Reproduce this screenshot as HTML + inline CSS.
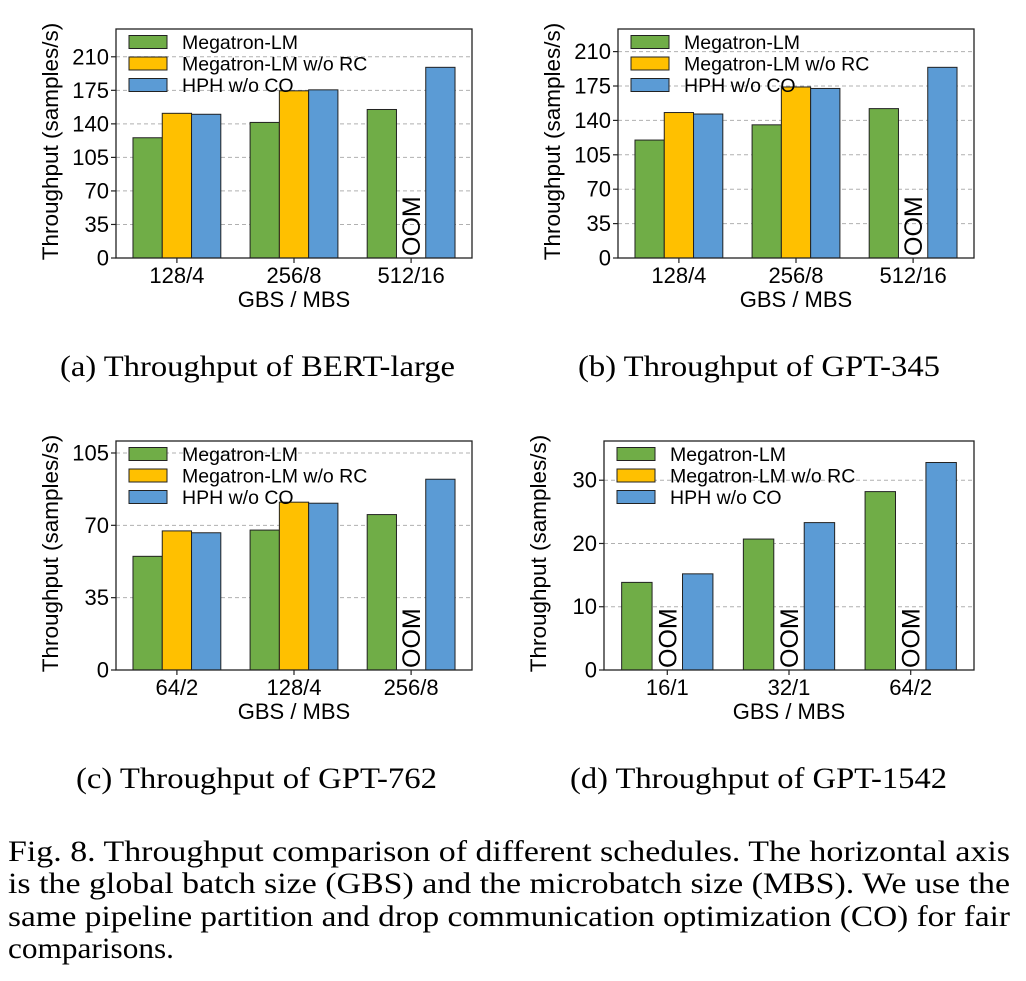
<!DOCTYPE html>
<html><head><meta charset="utf-8"><style>
html,body{margin:0;padding:0;background:#fff;}
svg{display:block;}
.cap{font-family:"Liberation Serif",serif;font-size:30px;fill:#000;}
.mpl{font-family:"Liberation Sans",sans-serif;fill:#000;}
</style></head><body>
<svg id="fig" width="1026" height="981" viewBox="0 0 1026 981" xmlns="http://www.w3.org/2000/svg">
<text class="cap" x="60" y="376" textLength="395" lengthAdjust="spacingAndGlyphs">(a)  Throughput of BERT-large</text>
<text class="cap" x="578" y="376" textLength="362" lengthAdjust="spacingAndGlyphs">(b)  Throughput of GPT-345</text>
<text class="cap" x="76" y="788" textLength="361" lengthAdjust="spacingAndGlyphs">(c)  Throughput of GPT-762</text>
<text class="cap" x="570" y="788" textLength="377" lengthAdjust="spacingAndGlyphs">(d)  Throughput of GPT-1542</text>
<g>
<text class="cap" x="8" y="861" textLength="1002" lengthAdjust="spacingAndGlyphs">Fig. 8.  Throughput comparison of different schedules. The horizontal axis</text>
<text class="cap" x="8" y="893" textLength="1002" lengthAdjust="spacingAndGlyphs">is the global batch size (GBS) and the microbatch size (MBS). We use the</text>
<text class="cap" x="8" y="926" textLength="1002" lengthAdjust="spacingAndGlyphs">same pipeline partition and drop communication optimization (CO) for fair</text>
<text class="cap" x="8" y="958" textLength="166" lengthAdjust="spacingAndGlyphs">comparisons.</text>
</g>
</svg>
<script>
const seriesNames = ["Megatron-LM", "Megatron-LM w/o RC", "HPH w/o CO"];
const seriesColors = ["#70AD47", "#FFC000", "#5B9BD5"];

const catsA = ["128/4", "256/8", "512/16"];
const megatronA = [125.5, 141.5, 155];
const noRcA = [151, 174.5, null];
const hphA = [150, 175.5, 199];
const ticksA = [0, 35, 70, 105, 140, 175, 210];

const catsB = ["128/4", "256/8", "512/16"];
const megatronB = [120, 135.5, 152];
const noRcB = [148, 174, null];
const hphB = [146.5, 172.5, 194];
const ticksB = [0, 35, 70, 105, 140, 175, 210];

const catsC = ["64/2", "128/4", "256/8"];
const megatronC = [55, 67.7, 75.2];
const noRcC = [67.3, 81.2, null];
const hphC = [66.4, 80.7, 92.3];
const ticksC = [0, 35, 70, 105];

const catsD = ["16/1", "32/1", "64/2"];
const megatronD = [13.85, 20.7, 28.2];
const noRcD = [null, null, null];
const hphD = [15.2, 23.3, 32.8];
const ticksD = [0, 10, 20, 30];

const NS = "http://www.w3.org/2000/svg";
const svg = document.getElementById("fig");
function mk(tag, attrs, parent) {
  const e = document.createElementNS(NS, tag);
  for (const k in attrs) e.setAttribute(k, attrs[k]);
  parent.appendChild(e);
  return e;
}

function panel(id, box, ymax, cats, series, ticks) {
  const g = mk("g", {}, svg);
  
  
  const [L, T, R, B] = box;
  const x0 = -0.52, x1 = 2.52;
  const xs = v => L + (v - x0) / (x1 - x0) * (R - L);
  const ys = v => B - v / ymax * (B - T);
  ticks.forEach(t => {
    const ln = mk("line", {x1: L, x2: R, y1: ys(t), y2: ys(t), stroke: "#b0b0b0", "stroke-width": 1, "stroke-dasharray": "4,3"}, g);
    
    
  });
  const bw = 0.25;
  series.forEach((vals, si) => {
    vals.forEach((v, ci) => {
      const cx = ci + (si - 1) * bw;
      if (v === null) {
        const tx = mk("text", {class: "mpl", "font-size": 25, transform: `translate(${xs(cx) + 9},${B - 2}) rotate(-90)`}, g);
        tx.textContent = "OOM";
        
        
        return;
      }
      const r = mk("rect", {x: xs(cx - bw / 2), y: ys(v), width: xs(cx + bw / 2) - xs(cx - bw / 2), height: B - ys(v), fill: seriesColors[si], stroke: "#222", "stroke-width": 1}, g);
      
      
    });
  });
  const fr = mk("rect", {x: L, y: T, width: R - L, height: B - T, fill: "none", stroke: "#222", "stroke-width": 1.3}, g);
  
  
  ticks.forEach(t => {
    mk("line", {x1: L - 5, x2: L, y1: ys(t), y2: ys(t), stroke: "#222", "stroke-width": 1.2}, g);
    const tx = mk("text", {class: "mpl", "font-size": 22, x: L - 7, y: ys(t) + 7.5, "text-anchor": "end"}, g);
    tx.textContent = t;
    
    
  });
  cats.forEach((c, i) => {
    mk("line", {x1: xs(i), x2: xs(i), y1: B, y2: B + 5, stroke: "#222", "stroke-width": 1.2}, g);
    const tx = mk("text", {class: "mpl", "font-size": 22, x: xs(i), y: B + 25, "text-anchor": "middle"}, g);
    tx.textContent = c;
    
    
  });
  const xl = mk("text", {class: "mpl", "font-size": 22, x: (L + R) / 2, y: B + 49, "text-anchor": "middle"}, g);
  xl.textContent = "GBS / MBS";
  
  
  const yl = mk("text", {class: "mpl", "font-size": 22.5, transform: `translate(${L - 58},${(T + B) / 2 - 2}) rotate(-90)`, "text-anchor": "middle"}, g);
  yl.textContent = "Throughput (samples/s)";
  
  
  seriesNames.forEach((n, i) => {
    const yy = T + 13 + i * 21.5;
    const sw = mk("rect", {x: L + 13, y: yy - 6.5, width: 38, height: 13, fill: seriesColors[i], stroke: "#222", "stroke-width": 1}, g);
    
    
    const tx = mk("text", {class: "mpl", "font-size": 19.5, x: L + 66, y: yy + 7}, g);
    tx.textContent = n;
    
    
  });
}

panel("a", [116, 29, 472, 258], 239, catsA, [megatronA, noRcA, hphA], ticksA);
panel("b", [618, 29, 974, 258], 233, catsB, [megatronB, noRcB, hphB], ticksB);
panel("c", [116, 441, 472, 670], 110.8, catsC, [megatronC, noRcC, hphC], ticksC);
panel("d", [604, 441, 974, 670], 36.2, catsD, [megatronD, noRcD, hphD], ticksD);
</script>
</body></html>
